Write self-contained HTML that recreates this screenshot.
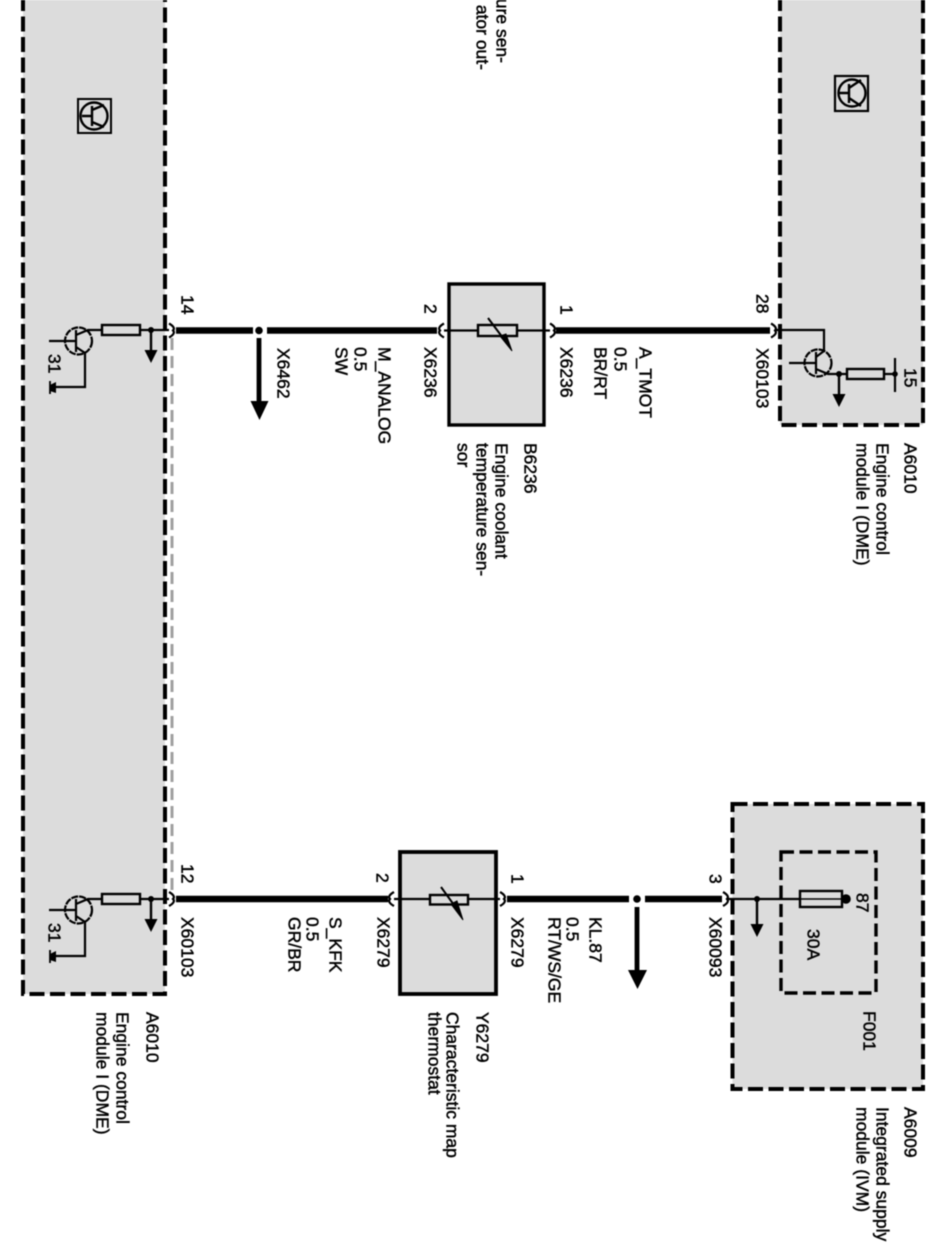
<!DOCTYPE html>
<html><head><meta charset="utf-8"><style>
html,body{margin:0;padding:0;background:#fff}
svg{display:block;filter:blur(.4px)}
text{font-family:"Liberation Sans",sans-serif;font-size:17.5px;fill:#000;stroke:#000;stroke-width:.45}
</style></head><body>
<svg width="944" height="1251" viewBox="0 0 944 1251" xmlns="http://www.w3.org/2000/svg">
<defs>
<g id="ecu">
  <circle cx="78.500" cy="341" r="13.500" fill="none" stroke="#000" stroke-width="2.200" stroke-dasharray="7 1"/>
  <path d="M49 341H76M76 330V352M76 335L88 330H102M76 347L85 353V387H56M140 330H170" fill="none" stroke="#000" stroke-width="2.200"/>
  <rect x="102" y="325" width="38" height="10" fill="#dcdcdc" stroke="#000" stroke-width="2.400"/>
  <circle cx="151" cy="330" r="3"/>
  <path d="M151 330V352" stroke="#000" stroke-width="2.400"/>
  <path d="M144.500 350H157.500L151 363Z"/>
  <path d="M56 382V393L50 391V385Z"/>
  <path d="M50 381V394" stroke="#000" stroke-width="1.800"/>
</g>
<g id="conn"><path d="M0 -7Q7 -3 4 0Q7 3 0 7" fill="#fff" stroke="#000" stroke-width="2.200"/></g>
</defs>
<rect width="944" height="1251" fill="#fff"/>

<!-- panels -->
<path d="M172 338V892" stroke="#a0a0a0" stroke-width="3" stroke-dasharray="12 6" fill="none"/>
<path d="M23 -4V994H165V-4" fill="#dcdcdc" stroke="#000" stroke-width="4" stroke-dasharray="15 5.500"/>
<path d="M780 -4V425H923V-4" fill="#dcdcdc" stroke="#000" stroke-width="4" stroke-dasharray="15 5.500"/>
<rect x="732.500" y="804" width="190.500" height="285" fill="#dcdcdc" stroke="#000" stroke-width="4" stroke-dasharray="15 5.500"/>
<rect x="781" y="852" width="95" height="141" fill="none" stroke="#000" stroke-width="3.400" stroke-dasharray="13 5.500"/>

<!-- icons -->
<g fill="none" stroke="#000" stroke-width="2">
<rect x="78" y="99" width="33" height="34"/>
<circle cx="94" cy="116" r="13.500" stroke-width="2.400"/>
<path d="M82 116H92M92 106V126M92 110L104 105M92 122L104 127" stroke-width="2.400"/>
<rect x="835" y="76" width="33" height="35" stroke-width="2.200"/>
<circle cx="852" cy="93" r="13.500" stroke-width="2.400"/>
<path d="M839 93H849M849 84V103M849 88L861 80M849 98L861 106" stroke-width="2.400"/>
</g>

<use href="#ecu"/>
<use href="#ecu" y="569"/>

<!-- right module transistor -->
<circle cx="818" cy="363" r="13.500" fill="none" stroke="#000" stroke-width="2.200" stroke-dasharray="7 1"/>
<path d="M789 363H816M816 352V374M816 357L824 351V330H776M816 369L828 374H847M884 374H895" fill="none" stroke="#000" stroke-width="2.200"/>
<rect x="847" y="369" width="37" height="10" fill="#dcdcdc" stroke="#000" stroke-width="2.400"/>
<path d="M895 358V392" stroke="#000" stroke-width="2.200"/>
<circle cx="895" cy="374" r="2.800"/><circle cx="839" cy="374" r="3"/>
<path d="M839 374V396" stroke="#000" stroke-width="2.400"/>
<path d="M832.500 394H845.500L839 407Z"/>

<!-- sensor boxes -->
<rect x="449" y="284" width="95" height="141" fill="#dcdcdc" stroke="#000" stroke-width="3.400"/>
<rect x="400" y="852" width="96" height="142" fill="#dcdcdc" stroke="#000" stroke-width="3.800"/>

<!-- wires -->
<g stroke="#000" stroke-width="6.500" fill="none">
<path d="M176 330.500H253M267 330.500H437M556 330.500H770"/>
<path d="M176 899H388M507 899H629M645 899H722"/>
</g>
<g stroke="#000" stroke-width="2.200" fill="none">
<path d="M443 330.500H551M393 899H503M725 899H800"/>
</g>
<circle cx="259" cy="330.500" r="3.800"/><circle cx="637" cy="899" r="3.800"/>
<path d="M259 338V402" stroke="#000" stroke-width="4.800"/>
<path d="M250.500 401H268.500L259.500 420Z"/>
<path d="M637 907V971" stroke="#000" stroke-width="4.800"/>
<path d="M628 970H647L637.500 989Z"/>

<!-- connectors -->
<use href="#conn" x="169" y="330.500"/>
<use href="#conn" x="169" y="899"/>
<use href="#conn" x="550" y="330.500"/>
<use href="#conn" transform="translate(444 330.500) scale(-1 1)"/>
<use href="#conn" x="500" y="899"/>
<use href="#conn" transform="translate(394 899) scale(-1 1)"/>
<use href="#conn" x="723" y="899"/>
<use href="#conn" transform="translate(771 330.500)"/>

<!-- thermistor symbols -->
<rect x="478" y="325" width="39" height="11" fill="#dcdcdc" stroke="#000" stroke-width="2.400"/>
<path d="M488 318L503 338" stroke="#000" stroke-width="2"/>
<path d="M500 336L506 334L512 351Z" stroke="#000"/>
<rect x="430" y="895" width="38" height="9.500" fill="#dcdcdc" stroke="#000" stroke-width="2.400"/>
<path d="M441 887L454 905" stroke="#000" stroke-width="2"/>
<path d="M451 904L457 901L463 920Z" stroke="#000"/>

<!-- IVM fuse -->
<rect x="800" y="891" width="42" height="16" fill="#dcdcdc" stroke="#000" stroke-width="2.400"/>
<path d="M800 899H842" stroke="#000" stroke-width="1.500"/>
<circle cx="846" cy="899" r="4.800"/>
<circle cx="757" cy="899" r="3"/>
<path d="M757 899V926" stroke="#000" stroke-width="2.400"/>
<path d="M750.500 924H763.500L757 937Z"/>

<!-- text -->
<g transform="translate(1.500 0)">
<text transform="translate(495 63) rotate(90)" text-anchor="end">ure sen-</text>
<text transform="translate(475 70) rotate(90)" text-anchor="end">ator out-</text>

<text transform="translate(180 295) rotate(90)">14</text>
<text transform="translate(47 354) rotate(90)">31</text>
<text transform="translate(276 348) rotate(90)">X6462</text>
<text transform="translate(423 304) rotate(90)">2</text>
<text transform="translate(559 305) rotate(90)">1</text>
<text transform="translate(423 347) rotate(90)">X6236</text>
<text transform="translate(559 347) rotate(90)">X6236</text>
<text transform="translate(638 347) rotate(90)">A_TMOT</text>
<text transform="translate(613 347) rotate(90)">0.5</text>
<text transform="translate(593 347) rotate(90)">BR/RT</text>
<text transform="translate(377 347) rotate(90)">M_ANALOG</text>
<text transform="translate(353 347) rotate(90)">0.5</text>
<text transform="translate(334 347) rotate(90)">SW</text>
<text transform="translate(523 443) rotate(90)">B6236</text>
<text transform="translate(494 443) rotate(90)">Engine coolant</text>
<text transform="translate(475 443) rotate(90)">temperature sen-</text>
<text transform="translate(456 443) rotate(90)">sor</text>
<text transform="translate(755 294) rotate(90)">28</text>
<text transform="translate(755 348) rotate(90)">X60103</text>
<text transform="translate(903 368) rotate(90)">15</text>
<text transform="translate(903 443) rotate(90)">A6010</text>
<text transform="translate(875 443) rotate(90)">Engine control</text>
<text transform="translate(855 443) rotate(90)">module I (DME)</text>

<text transform="translate(180 864) rotate(90)">12</text>
<text transform="translate(47 923) rotate(90)">31</text>
<text transform="translate(180 917) rotate(90)">X60103</text>
<text transform="translate(145 1012) rotate(90)">A6010</text>
<text transform="translate(115 1012) rotate(90)">Engine control</text>
<text transform="translate(95 1012) rotate(90)">module I (DME)</text>
<text transform="translate(328 917) rotate(90)">S_KFK</text>
<text transform="translate(305 917) rotate(90)">0.5</text>
<text transform="translate(287 917) rotate(90)">GR/BR</text>
<text transform="translate(375 873) rotate(90)">2</text>
<text transform="translate(510 874) rotate(90)">1</text>
<text transform="translate(376 917) rotate(90)">X6279</text>
<text transform="translate(510 917) rotate(90)">X6279</text>
<text transform="translate(588 917) rotate(90)">KL.87</text>
<text transform="translate(565 917) rotate(90)">0.5</text>
<text transform="translate(547 917) rotate(90)">RT/WS/GE</text>
<text transform="translate(475 1012) rotate(90)">Y6279</text>
<text transform="translate(445 1012) rotate(90)">Characteristic map</text>
<text transform="translate(427 1012) rotate(90)">thermostat</text>
<text transform="translate(708 874) rotate(90)">3</text>
<text transform="translate(708 917) rotate(90)">X60093</text>
<text transform="translate(855 893) rotate(90)">87</text>
<text transform="translate(806 929) rotate(90)">30A</text>
<text transform="translate(862 1011) rotate(90)">F001</text>
<text transform="translate(903 1107) rotate(90)">A6009</text>
<text transform="translate(875 1107) rotate(90)">Integrated supply</text>
<text transform="translate(855 1107) rotate(90)">module (IVM)</text>
</g>
</svg>
</body></html>
